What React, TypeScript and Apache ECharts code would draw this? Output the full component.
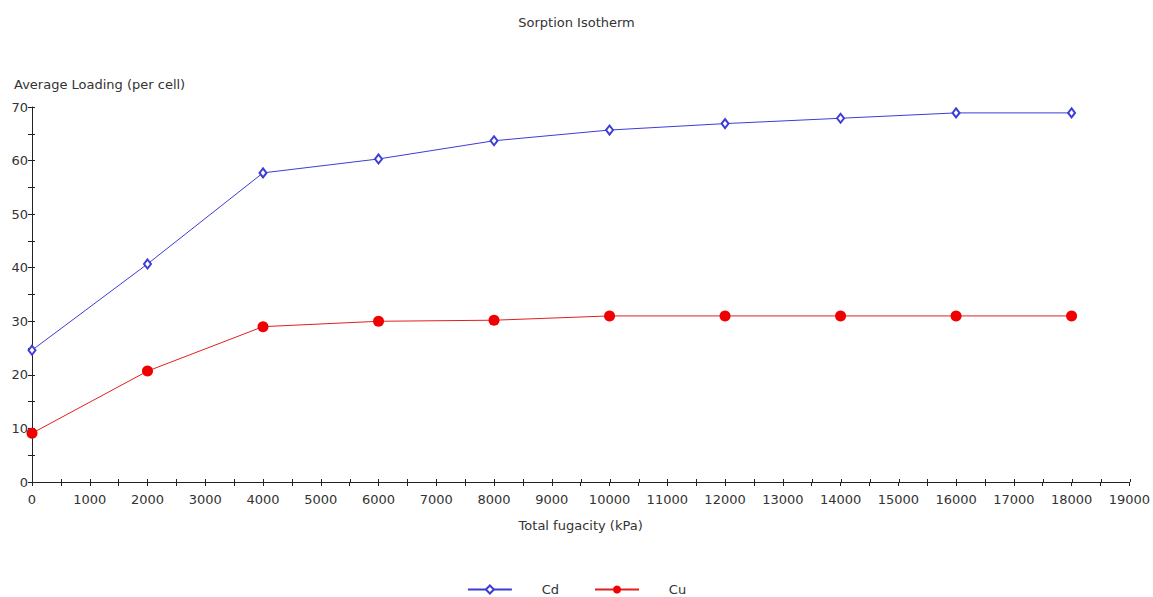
import React, { useEffect, useRef } from "react";
import * as echarts from "echarts";

const fugacity = [0, 2000, 4000, 6000, 8000, 10000, 12000, 14000, 16000, 18000];
const cdLoading = [24.6, 40.7, 57.7, 60.3, 63.7, 65.7, 66.9, 67.9, 68.9, 68.9];
const cuLoading = [9.1, 20.7, 29.0, 30.0, 30.2, 31.0, 31.0, 31.0, 31.0, 31.0];
const seriesNames = ["Cd", "Cu"];

const FONT = "DejaVu Sans";
const FS = 13;
const AXIS_COLOR = "#222";

export default function App() {
  const ref = useRef<HTMLDivElement>(null);
  useEffect(() => {
    if (!ref.current) return;
    const chart = echarts.init(ref.current, undefined, { renderer: "svg" });
    const gridRect = { left: 32, right: 23, top: 107, bottom: 115 };
    const baseX = {
      type: "value" as const,
      min: 0,
      max: 19000,
      interval: 1000,
      splitLine: { show: false },
      minorSplitLine: { show: false },
    };
    const baseY = {
      type: "value" as const,
      min: 0,
      max: 70,
      interval: 10,
      splitLine: { show: false },
      minorSplitLine: { show: false },
    };
    chart.setOption({
      animation: false,
      backgroundColor: "#fff",
      textStyle: { fontFamily: FONT },
      title: [
        {
          text: "Sorption Isotherm",
          left: "center",
          top: 11,
          textStyle: { fontFamily: FONT, fontSize: FS, fontWeight: "normal", color: "#333" },
        },
        {
          text: "Average Loading (per cell)",
          left: 9,
          top: 73,
          textStyle: { fontFamily: FONT, fontSize: FS, fontWeight: "normal", color: "#333" },
        },
      ],
      grid: [{ ...gridRect }, { ...gridRect }],
      xAxis: [
        {
          ...baseX,
          gridIndex: 0,
          name: "Total fugacity (kPa)",
          nameLocation: "middle",
          nameGap: 37,
          nameTextStyle: { fontFamily: FONT, fontSize: FS, color: "#333" },
          axisLine: { show: true, lineStyle: { color: AXIS_COLOR, width: 1 } },
          axisTick: { show: true, inside: false, length: 4, lineStyle: { color: AXIS_COLOR } },
          minorTick: { show: true, splitNumber: 2, length: 4, lineStyle: { color: AXIS_COLOR } },
          axisLabel: {
            fontFamily: FONT,
            fontSize: FS,
            color: "#333",
            margin: 11,
            formatter: (v: number) => String(v),
          },
        },
        {
          ...baseX,
          gridIndex: 1,
          axisLine: { show: false },
          axisTick: { show: true, inside: true, length: 3, lineStyle: { color: AXIS_COLOR } },
          minorTick: { show: true, splitNumber: 2, length: 3, lineStyle: { color: AXIS_COLOR } },
          axisLabel: { show: false },
        },
      ],
      yAxis: [
        {
          ...baseY,
          gridIndex: 0,
          axisLine: { show: true, lineStyle: { color: AXIS_COLOR, width: 1 } },
          axisTick: { show: true, inside: false, length: 4, lineStyle: { color: AXIS_COLOR } },
          minorTick: { show: true, splitNumber: 2, length: 4, lineStyle: { color: AXIS_COLOR } },
          axisLabel: { fontFamily: FONT, fontSize: FS, color: "#333", margin: 4 },
        },
        {
          ...baseY,
          gridIndex: 1,
          axisLine: { show: false },
          axisTick: { show: true, inside: true, length: 3, lineStyle: { color: AXIS_COLOR } },
          minorTick: { show: true, splitNumber: 2, length: 3, lineStyle: { color: AXIS_COLOR } },
          axisLabel: { show: false },
        },
      ],
      legend: {
        top: 578,
        left: "center",
        itemWidth: 44,
        itemHeight: 10,
        itemGap: 35,
        textStyle: { fontFamily: FONT, fontSize: FS, color: "#333" },
        data: seriesNames.map((n) => ({ name: n })),
        formatter: (n: string) => "      " + n,
      },
      series: [
        {
          name: seriesNames[0],
          type: "line",
          xAxisIndex: 0,
          yAxisIndex: 0,
          data: fugacity.map((x, i) => [x, cdLoading[i]]),
          symbol: "emptyDiamond",
          symbolSize: [7, 9],
          lineStyle: { color: "#3c3cd6", width: 1 },
          itemStyle: { color: "#3c3cd6", borderColor: "#3c3cd6", borderWidth: 1 },
          z: 3,
        },
        {
          name: seriesNames[1],
          type: "line",
          xAxisIndex: 0,
          yAxisIndex: 0,
          data: fugacity.map((x, i) => [x, cuLoading[i]]),
          symbol: "circle",
          symbolSize: 11,
          lineStyle: { color: "#e02020", width: 1 },
          itemStyle: { color: "#f00000" },
          z: 3,
        },
      ],
    });
    return () => chart.dispose();
  }, []);
  return <div ref={ref} style={{ width: 1153, height: 597, position: "absolute", left: 0, top: 0 }} />;
}
